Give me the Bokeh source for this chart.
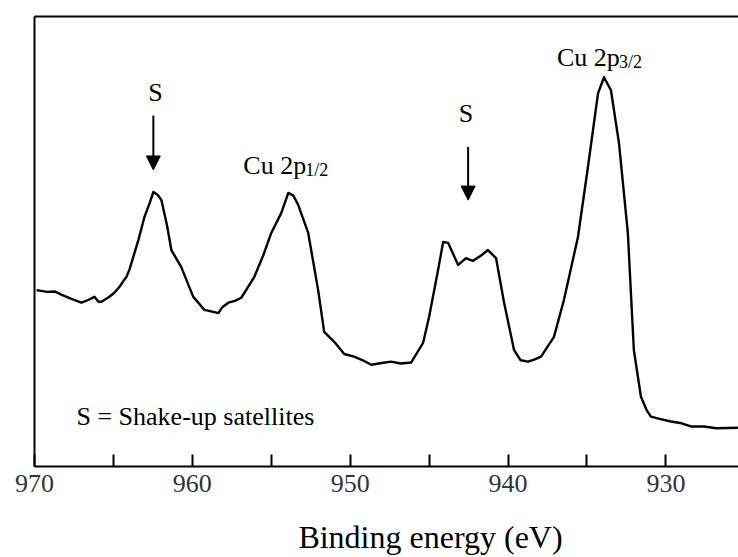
from bokeh.plotting import figure
from bokeh.models import Range1d, FixedTicker, LinearAxis, Label, Arrow, NormalHead, ColumnDataSource
from bokeh.core.properties import value
from bokeh.embed import file_html
from bokeh.resources import INLINE

# --- data (binding energy in eV, intensity in arbitrary units) ---
energy = [969.87, 969.20, 968.73, 968.30, 967.70, 967.03, 966.60, 966.20, 965.95, 965.76,
          965.30, 964.94, 964.60, 964.35, 964.18, 963.99, 963.42, 963.04, 962.70,
          962.47, 962.20, 961.96, 961.60, 961.33, 960.70, 960.30, 959.94, 959.24, 958.60,
          958.35, 958.10, 957.72, 957.30, 956.90, 956.08, 955.50,
          955.00, 954.37, 953.92, 953.60, 953.29, 952.66, 952.03, 951.65, 951.01, 950.38, 949.75,
          949.20, 948.67, 948.00, 947.41, 946.80, 946.14, 945.38, 945.00, 944.43, 944.11, 943.80,
          943.16, 942.90, 942.66, 942.40, 942.22, 941.70, 941.27, 940.76, 940.25, 939.62,
          939.20, 938.73, 938.30, 937.91, 937.09, 936.46, 935.57,
          934.94, 934.30, 933.92, 933.48, 932.97, 932.41, 932.03, 931.58, 931.20, 930.95,
          930.40, 929.68, 929.00, 928.42, 927.59, 926.80, 925.44]
intensity = [39.2, 38.8, 38.9, 38.2, 37.3, 36.4, 37.0, 37.7, 36.6, 36.6,
             37.6, 38.6, 40.0, 41.3, 42.1, 43.7, 50.3, 55.4, 58.6,
             61.0, 60.4, 59.2, 53.5, 48.1, 44.3, 40.8, 37.7, 34.8, 34.3,
             34.1, 35.4, 36.4, 36.8, 37.5, 42.1, 47.0,
             51.9, 56.3, 60.8, 60.2, 58.1, 51.9, 39.2, 29.9, 27.7, 25.0, 24.4,
             23.6, 22.6, 23.0, 23.3, 22.9, 23.1, 27.5, 33.3, 43.7, 49.9, 49.7,
             44.8, 45.6, 46.3, 45.9, 45.7, 46.9, 48.1, 46.3, 36.4, 25.9,
             23.6, 23.3, 23.8, 24.4, 28.8, 37.0, 51.0,
             66.5, 82.9, 86.5, 83.6, 71.8, 51.9, 25.9, 15.5, 12.4, 11.1,
             10.6, 10.0, 9.6, 8.9, 8.9, 8.5, 8.6]

tick_values = [970, 965, 960, 955, 950, 945, 940, 935, 930]
tick_labels = ["970", "", "960", "", "950", "", "940", "", "930"]

sat_labels = ["S", "S"]
sat_energy = [962.34, 942.66]
sat_label_y = [83.1, 78.5]
sat_arrow_start = [78.0, 71.0]
sat_arrow_end = [65.9, 59.2]
sat_arrow_energy = [962.47, 942.53]

peak_main = ["Cu 2p", "Cu 2p"]
peak_sub = ["1/2", "3/2"]
peak_energy = [956.77, 936.90]
peak_y = [67.0, 90.9]

FONT = "Liberation Serif"

p = figure(width=738, height=557, x_range=Range1d(970, 925.4), y_range=Range1d(0, 100),
           output_backend="svg", toolbar_location=None,
           min_border_left=34, min_border_right=0, min_border_top=16, min_border_bottom=90)
p.outline_line_color = None
p.xgrid.visible = False
p.ygrid.visible = False
p.background_fill_color = "white"
p.border_fill_color = "white"

# bottom axis
xa = p.xaxis[0]
xa.ticker = FixedTicker(ticks=tick_values)
xa.major_label_overrides = {v: l for v, l in zip(tick_values, tick_labels)}
xa.major_tick_in = 12
xa.major_tick_out = 0
xa.minor_tick_line_color = None
xa.major_tick_line_width = 2
xa.axis_line_width = 2
xa.major_label_text_font = FONT
xa.major_label_text_font_size = "26px"
xa.major_label_text_color = "#333333"
xa.major_label_standoff = 8
# title sits right of centre in the reference: pad with no-break spaces
xa.axis_label = "\u00a0" * 11 + "Binding energy (eV)"
xa.axis_label_text_font = FONT
xa.axis_label_text_font_size = "32px"
xa.axis_label_text_font_style = "normal"
xa.axis_label_text_color = "black"
xa.axis_label_standoff = 24

# left axis: plain line
ya = p.yaxis[0]
ya.ticker = FixedTicker(ticks=[])
ya.minor_tick_line_color = None
ya.major_tick_line_color = None
ya.major_label_text_font_size = "0px"
ya.axis_line_width = 2

# top frame line
top = LinearAxis(ticker=FixedTicker(ticks=[]), axis_line_width=2,
                 major_tick_line_color=None, minor_tick_line_color=None,
                 major_label_text_font_size="0px")
p.add_layout(top, "above")

# spectrum
p.line(energy, intensity, line_color="black", line_width=2.4, line_join="round")

# satellite labels and arrows
p.text(x=sat_energy, y=sat_label_y, text=sat_labels, text_font=value(FONT),
       text_font_size="26px", text_align="center", text_baseline="middle", text_color="black")
for xe, y0, y1 in zip(sat_arrow_energy, sat_arrow_start, sat_arrow_end):
    p.add_layout(Arrow(x_start=xe, y_start=y0, x_end=xe, y_end=y1, line_width=2,
                       end=NormalHead(size=14, fill_color="black", line_color="black")))

# peak labels with subscripts
src = ColumnDataSource(dict(x=peak_energy, y=peak_y, main=peak_main, sub=peak_sub))
p.text(x="x", y="y", text="main", source=src, text_font=value(FONT), text_font_size="26px",
       text_align="left", text_baseline="alphabetic", text_color="black")
p.text(x="x", y="y", text="sub", source=src, text_font=value(FONT), text_font_size="18px",
       text_align="left", text_baseline="alphabetic", text_color="black",
       x_offset=62, y_offset=5)

# note
p.add_layout(Label(x=967.34, y=11.1, text="S = Shake-up satellites", text_font=FONT,
                   text_font_size="26px", text_align="left", text_baseline="alphabetic",
                   text_color="black"))

open("out.html", "w").write(file_html(p, INLINE))
